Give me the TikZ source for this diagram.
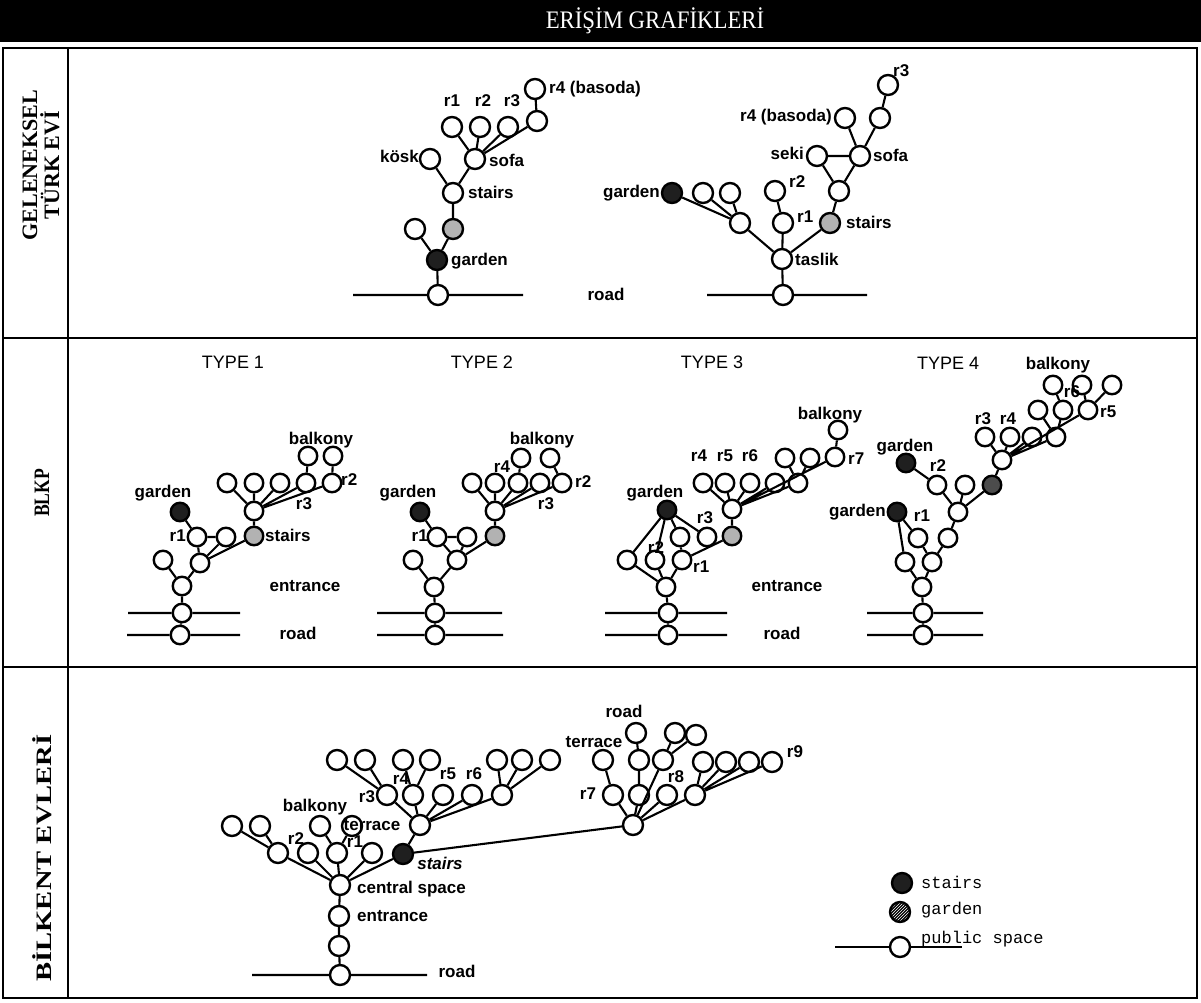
\documentclass[tikz,border=0pt]{standalone}
\usepackage{fontspec}
\setmainfont{Liberation Serif}
\setsansfont{Liberation Sans}
\setmonofont{Liberation Mono}
\usetikzlibrary{patterns}
\begin{document}
\begin{tikzpicture}[x=1pt,y=-1pt,
 nd/.style={circle,draw,line width=2.4pt,minimum size=20pt,inner sep=0pt,fill=white},
 sn/.style={nd,minimum size=18.5pt},
 dk/.style={fill=black!88},
 hx/.style={fill=black!30},
 ed/.style={line width=2.1pt},
 lb/.style={font=\sffamily\bfseries\fontsize{17}{17}\selectfont,inner sep=0pt,text height=12pt,text depth=3.5pt},
 ty/.style={font=\sffamily\fontsize{18}{18}\selectfont,inner sep=0pt},
 lg/.style={font=\ttfamily\fontsize{17}{17}\selectfont,inner sep=0pt,anchor=west},
 fr/.style={line width=1.6pt},
 side/.style={rotate=90,font=\bfseries\fontsize{22}{22}\selectfont,align=center,inner sep=0pt}]
\useasboundingbox (0,0) rectangle (1201,1002);
% header
\fill[black] (0,0) rectangle (1201,42);
\node[text=white,font=\fontsize{24}{24}\selectfont,inner sep=0pt] (title) at (655,21) {\scalebox{0.95}[1.05]{ERİŞİM GRAFİKLERİ}};
% frame
\draw[fr] (3,48) rectangle (1197,998);
\draw[fr] (68,48) -- (68,998);
\draw[fr] (3,338) -- (1197,338);
\draw[fr] (3,667) -- (1197,667);
\node[side] (sl1) at (41,165) {GELENEKSEL\\TÜRK EVİ};
\node[side] (sl2) at (42,493) {\scalebox{0.8}[1]{BLKP}};
\node[side] (sl3) at (42,858) {\scalebox{1.3}[1]{BİLKENT EVLERİ}};

% ===== Section 1, tree A
\node[nd] (a0) at (438,295) {};
\coordinate (a0l) at (353,295); \coordinate (a0r) at (523,295);
\node[nd,dk] (a1) at (437,260) {};
\node[nd] (a2) at (415,229) {};
\node[nd,hx] (a3) at (453,229) {};
\node[nd] (a4) at (453,193) {};
\node[nd] (a5) at (430,159) {};
\node[nd] (a6) at (475,159) {};
\node[nd] (a7) at (452,127) {};
\node[nd] (a8) at (480,127) {};
\node[nd] (a9) at (508,127) {};
\node[nd] (a10) at (537,121) {};
\node[nd] (a11) at (535,89) {};
\draw[ed] (a0l)--(a0) (a0)--(a0r) (a0)--(a1) (a1)--(a2) (a1)--(a3) (a3)--(a4) (a4)--(a5) (a4)--(a6)
  (a6)--(a7) (a6)--(a8) (a6)--(a9) (a6)--(a10) (a10)--(a11);
\node[lb] (la1) at (452,102) {r1};
\node[lb] (la2) at (483,102) {r2};
\node[lb] (la3) at (512,102) {r3};
\node[lb,anchor=west] (la4) at (549,89) {r4 (basoda)};
\node[lb,anchor=east] (la5) at (419,158) {kösk};
\node[lb,anchor=west] (la6) at (489,162) {sofa};
\node[lb,anchor=west] (la7) at (468,194) {stairs};
\node[lb,anchor=west] (la8) at (451,261) {garden};
\node[lb] (la9) at (606,296) {road};

% ===== Section 1, tree B
\node[nd] (b0) at (783,295) {};
\coordinate (b0l) at (707,295); \coordinate (b0r) at (867,295);
\node[nd] (b1) at (782,259) {};
\node[nd] (b2) at (783,223) {};
\node[nd] (b3) at (775,191) {};
\node[nd] (b4) at (740,223) {};
\node[nd] (b5) at (703,193) {};
\node[nd] (b6) at (730,193) {};
\node[nd,dk] (b7) at (672,193) {};
\node[nd,hx] (b8) at (830,223) {};
\node[nd] (b9) at (839,191) {};
\node[nd] (b10) at (817,156) {};
\node[nd] (b11) at (860,156) {};
\node[nd] (b12) at (845,118) {};
\node[nd] (b13) at (880,118) {};
\node[nd] (b14) at (888,85) {};
\draw[ed] (b0l)--(b0) (b0)--(b0r) (b0)--(b1) (b1)--(b2) (b2)--(b3) (b1)--(b4) (b4)--(b5) (b4)--(b6) (b4)--(b7)
  (b1)--(b8) (b8)--(b9) (b9)--(b10) (b9)--(b11) (b10)--(b11) (b11)--(b12) (b11)--(b13) (b13)--(b14);
\node[lb,anchor=west] (lb1) at (795,261) {taslik};
\node[lb,anchor=west] (lb2) at (797,218) {r1};
\node[lb,anchor=west] (lb3) at (789,183) {r2};
\node[lb,anchor=east] (lb4) at (660,193) {garden};
\node[lb,anchor=west] (lb5) at (846,224) {stairs};
\node[lb,anchor=east] (lb6) at (804,155) {seki};
\node[lb,anchor=west] (lb7) at (873,157) {sofa};
\node[lb,anchor=east] (lb8) at (832,117) {r4 (basoda)};
\node[lb,anchor=west] (lb9) at (893,72) {r3};

% ===== Section 2, TYPE 1
\node[ty] (t1) at (233,362) {TYPE 1};
\node[sn] (p0) at (180,635) {};
\coordinate (p0l) at (127,635); \coordinate (p0r) at (240,635);
\node[sn] (p1) at (182,613) {};
\coordinate (p1l) at (128,613); \coordinate (p1r) at (240,613);
\node[sn] (p2) at (182,586) {};
\node[sn] (p3) at (163,560) {};
\node[sn] (p4) at (200,563) {};
\node[sn] (p5) at (197,537) {};
\node[sn] (p6) at (226,537) {};
\node[sn,dk] (p7) at (180,512) {};
\node[sn,hx] (p8) at (254,536) {};
\node[sn] (p9) at (254,511) {};
\node[sn] (p10) at (227,483) {};
\node[sn] (p11) at (254,483) {};
\node[sn] (p12) at (280,483) {};
\node[sn] (p13) at (306,483) {};
\node[sn] (p14) at (332,483) {};
\node[sn] (p15) at (308,456) {};
\node[sn] (p16) at (333,456) {};
\draw[ed] (p0l)--(p0) (p0)--(p0r) (p1l)--(p1) (p1)--(p1r) (p0)--(p1) (p1)--(p2) (p2)--(p3) (p2)--(p4)
  (p4)--(p5) (p5)--(p6) (p4)--(p6) (p5)--(p7) (p4)--(p8) (p8)--(p9)
  (p9)--(p10) (p9)--(p11) (p9)--(p12) (p9)--(p13) (p9)--(p14) (p13)--(p15) (p14)--(p16);
\node[lb] (lp1) at (163,493) {garden};
\node[lb,anchor=east] (lp2) at (186,537) {r1};
\node[lb,anchor=west] (lp3) at (265,537) {stairs};
\node[lb] (lp4) at (321,440) {balkony};
\node[lb,anchor=west] (lp5) at (341,481) {r2};
\node[lb] (lp6) at (304,505) {r3};
\node[lb] (lp7) at (305,587) {entrance};
\node[lb] (lp8) at (298,635) {road};

% ===== TYPE 2
\node[ty] (t2) at (482,362) {TYPE 2};
\node[sn] (q0) at (435,635) {};
\coordinate (q0l) at (377,635); \coordinate (q0r) at (503,635);
\node[sn] (q1) at (435,613) {};
\coordinate (q1l) at (377,613); \coordinate (q1r) at (502,613);
\node[sn] (q2) at (434,587) {};
\node[sn] (q3) at (413,560) {};
\node[sn] (q4) at (457,560) {};
\node[sn] (q5) at (437,537) {};
\node[sn] (q6) at (467,537) {};
\node[sn,dk] (q7) at (420,512) {};
\node[sn,hx] (q8) at (495,536) {};
\node[sn] (q9) at (495,511) {};
\node[sn] (q10) at (472,483) {};
\node[sn] (q11) at (495,483) {};
\node[sn] (q12) at (518,483) {};
\node[sn] (q13) at (540,483) {};
\node[sn] (q14) at (562,483) {};
\node[sn] (q15) at (521,458) {};
\node[sn] (q16) at (550,458) {};
\draw[ed] (q0l)--(q0) (q0)--(q0r) (q1l)--(q1) (q1)--(q1r) (q0)--(q1) (q1)--(q2) (q2)--(q3) (q2)--(q4)
  (q4)--(q5) (q4)--(q6) (q5)--(q6) (q5)--(q7) (q4)--(q8) (q8)--(q9)
  (q9)--(q10) (q9)--(q11) (q9)--(q12) (q9)--(q13) (q9)--(q14) (q12)--(q15) (q14)--(q16);
\node[lb] (lq1) at (408,493) {garden};
\node[lb,anchor=east] (lq2) at (428,537) {r1};
\node[lb] (lq3) at (542,440) {balkony};
\node[lb] (lq4) at (502,468) {r4};
\node[lb,anchor=west] (lq5) at (575,483) {r2};
\node[lb] (lq6) at (546,505) {r3};

% ===== TYPE 3
\node[ty] (t3) at (712,362) {TYPE 3};
\node[sn] (s0) at (668,635) {};
\coordinate (s0l) at (605,635); \coordinate (s0r) at (727,635);
\node[sn] (s1) at (668,613) {};
\coordinate (s1l) at (605,613); \coordinate (s1r) at (727,613);
\node[sn] (s2) at (666,587) {};
\node[sn] (s3) at (627,560) {};
\node[sn] (s4) at (655,560) {};
\node[sn] (s5) at (682,560) {};
\node[sn,dk] (s6) at (667,510) {};
\node[sn] (s7) at (680,537) {};
\node[sn] (s8) at (707,537) {};
\node[sn,hx] (s9) at (732,536) {};
\node[sn] (s10) at (732,509) {};
\node[sn] (s11) at (703,483) {};
\node[sn] (s12) at (725,483) {};
\node[sn] (s13) at (750,483) {};
\node[sn] (s14) at (775,483) {};
\node[sn] (s15) at (798,483) {};
\node[sn] (s16) at (785,458) {};
\node[sn] (s17) at (810,458) {};
\node[sn] (s18) at (835,457) {};
\node[sn] (s19) at (838,430) {};
\draw[ed] (s0l)--(s0) (s0)--(s0r) (s1l)--(s1) (s1)--(s1r) (s0)--(s1) (s1)--(s2) (s2)--(s3) (s2)--(s4) (s2)--(s5)
  (s6)--(s3) (s6)--(s4) (s6)--(s7) (s6)--(s8) (s5)--(s7) (s5)--(s9) (s9)--(s10)
  (s10)--(s11) (s10)--(s12) (s10)--(s13) (s10)--(s14) (s10)--(s15) (s15)--(s16) (s15)--(s17) (s10)--(s18) (s18)--(s19);
\node[lb] (ls1) at (655,493) {garden};
\node[lb] (ls2) at (656,549) {r2};
\node[lb] (ls3) at (705,519) {r3};
\node[lb,anchor=west] (ls4) at (693,568) {r1};
\node[lb] (ls5) at (699,457) {r4};
\node[lb] (ls6) at (725,457) {r5};
\node[lb] (ls7) at (750,457) {r6};
\node[lb] (ls8) at (830,415) {balkony};
\node[lb,anchor=west] (ls9) at (848,460) {r7};
\node[lb] (ls10) at (787,587) {entrance};
\node[lb] (ls11) at (782,635) {road};

% ===== TYPE 4
\node[ty] (t4) at (948,363) {TYPE 4};
\node[sn] (u0) at (923,635) {};
\coordinate (u0l) at (867,635); \coordinate (u0r) at (983,635);
\node[sn] (u1) at (923,613) {};
\coordinate (u1l) at (867,613); \coordinate (u1r) at (983,613);
\node[sn] (u2) at (922,587) {};
\node[sn] (u3) at (905,562) {};
\node[sn] (u4) at (932,562) {};
\node[sn,dk] (u5) at (897,512) {};
\node[sn] (u6) at (918,538) {};
\node[sn] (u7) at (948,538) {};
\node[sn] (u8) at (958,512) {};
\node[sn] (u9) at (937,485) {};
\node[sn] (u10) at (965,485) {};
\node[sn,fill=black!70] (u11) at (992,485) {};
\node[sn,dk] (u12) at (906,463) {};
\node[sn] (u13) at (1002,460) {};
\node[sn] (u14) at (985,437) {};
\node[sn] (u15) at (1010,437) {};
\node[sn] (u16) at (1032,437) {};
\node[sn] (u17) at (1056,437) {};
\node[sn] (u18) at (1038,410) {};
\node[sn] (u19) at (1063,410) {};
\node[sn] (u20) at (1088,410) {};
\node[sn] (u21) at (1053,385) {};
\node[sn] (u22) at (1082,385) {};
\node[sn] (u23) at (1112,385) {};
\draw[ed] (u0l)--(u0) (u0)--(u0r) (u1l)--(u1) (u1)--(u1r) (u0)--(u1) (u1)--(u2) (u2)--(u3) (u2)--(u4)
  (u3)--(u5) (u5)--(u6) (u6)--(u4) (u4)--(u7) (u7)--(u8) (u8)--(u9) (u8)--(u10) (u8)--(u11) (u9)--(u12)
  (u11)--(u13) (u13)--(u14) (u13)--(u15) (u13)--(u16) (u13)--(u17) (u13)--(u20)
  (u17)--(u18) (u17)--(u19) (u19)--(u21) (u20)--(u22) (u20)--(u23);
\node[lb] (lu1) at (1058,365) {balkony};
\node[lb,anchor=east] (lu2) at (886,512) {garden};
\node[lb] (lu3) at (922,517) {r1};
\node[lb] (lu4) at (905,447) {garden};
\node[lb] (lu5) at (938,467) {r2};
\node[lb] (lu6) at (983,420) {r3};
\node[lb] (lu7) at (1008,420) {r4};
\node[lb] (lu8) at (1072,393) {r6};
\node[lb,anchor=west] (lu9) at (1100,413) {r5};

% ===== Section 3
\node[nd] (c0) at (340,975) {};
\coordinate (c0l) at (252,975); \coordinate (c0r) at (427,975);
\node[nd] (c1) at (339,946) {};
\node[nd] (c2) at (339,916) {};
\node[nd] (c3) at (340,885) {};
\node[nd] (cl1) at (232,826) {};
\node[nd] (cl2) at (260,826) {};
\node[nd] (cl3) at (278,853) {};
\node[nd] (cl4) at (308,853) {};
\node[nd] (cl5) at (337,853) {};
\node[nd] (cl6) at (372,853) {};
\node[nd] (cb) at (320,826) {};
\node[nd] (ct) at (352,826) {};
\node[nd,dk] (cs) at (403,854) {};
\node[nd] (ch) at (420,825) {};
\node[nd] (cr1) at (387,795) {};
\node[nd] (cr2) at (413,795) {};
\node[nd] (cr3) at (443,795) {};
\node[nd] (cr4) at (472,795) {};
\node[nd] (cr5) at (502,795) {};
\node[nd] (cu1) at (337,760) {};
\node[nd] (cu2) at (365,760) {};
\node[nd] (cu3) at (403,760) {};
\node[nd] (cu4) at (430,760) {};
\node[nd] (cu5) at (497,760) {};
\node[nd] (cu6) at (522,760) {};
\node[nd] (cu7) at (550,760) {};
\node[nd] (hr) at (633,825) {};
\node[nd] (d1) at (613,795) {};
\node[nd] (d2) at (603,760) {};
\node[nd] (d3) at (639,795) {};
\node[nd] (d4) at (639,760) {};
\node[nd] (d5) at (636,733) {};
\node[nd] (d6) at (663,760) {};
\node[nd] (d7) at (675,733) {};
\node[nd] (d8) at (696,735) {};
\node[nd] (d9) at (667,795) {};
\node[nd] (d10) at (695,795) {};
\node[nd] (d11) at (703,762) {};
\node[nd] (d12) at (726,762) {};
\node[nd] (d13) at (749,762) {};
\node[nd] (d14) at (772,762) {};
\draw[ed] (c0l)--(c0) (c0)--(c0r) (c0)--(c1) (c1)--(c2) (c2)--(c3)
  (c3)--(cl3) (cl1)--(cl3) (cl2)--(cl3) (c3)--(cl4) (c3)--(cl5) (c3)--(cl6) (c3)--(cs)
  (cl5)--(cb) (cl5)--(ct) (cs)--(ch)
  (ch)--(cr1) (ch)--(cr2) (ch)--(cr3) (ch)--(cr4) (ch)--(cr5)
  (cr1)--(cu1) (cr1)--(cu2) (cr2)--(cu3) (cr2)--(cu4) (cr5)--(cu5) (cr5)--(cu6) (cr5)--(cu7)
  (cs)--(hr) (hr)--(d1) (d1)--(d2) (hr)--(d3) (d3)--(d4) (d4)--(d5) (hr)--(d6) (d6)--(d7) (d6)--(d8)
  (hr)--(d9) (hr)--(d10) (d10)--(d11) (d10)--(d12) (d10)--(d13) (d10)--(d14);
\node[lb] (lc1) at (457,973) {road};
\node[lb,anchor=west] (lc2) at (357,917) {entrance};
\node[lb,anchor=west] (lc3) at (357,889) {central space};
\node[lb] (lc4) at (315,807) {balkony};
\node[lb] (lc5) at (372,826) {terrace};
\node[lb] (lc6) at (296,840) {r2};
\node[lb] (lc7) at (355,843) {r1};
\node[lb,font=\sffamily\bfseries\itshape\fontsize{17}{17}\selectfont] (lc8) at (440,865) {stairs};
\node[lb] (lc9) at (367,798) {r3};
\node[lb] (lc10) at (401,780) {r4};
\node[lb] (lc11) at (448,775) {r5};
\node[lb] (lc12) at (474,775) {r6};
\node[lb] (lc13) at (624,713) {road};
\node[lb] (lc14) at (594,743) {terrace};
\node[lb] (lc15) at (588,795) {r7};
\node[lb] (lc16) at (676,778) {r8};
\node[lb] (lc17) at (795,753) {r9};

% ===== legend
\node[nd,dk] (g1) at (902,883) {};
\node[nd,preaction={fill=black},pattern=north east lines,pattern color=white] (g2) at (900,912) {};
\node[nd] (g3) at (900,947) {};
\coordinate (g3l) at (835,947); \coordinate (g3r) at (962,947);
\draw[ed] (g3l)--(g3) (g3)--(g3r);
\node[lg] (lg1) at (921,882) {stairs};
\node[lg] (lg2) at (921,910) {garden};
\node[lg] (lg3) at (921,939) {public space};
\end{tikzpicture}
\end{document}
